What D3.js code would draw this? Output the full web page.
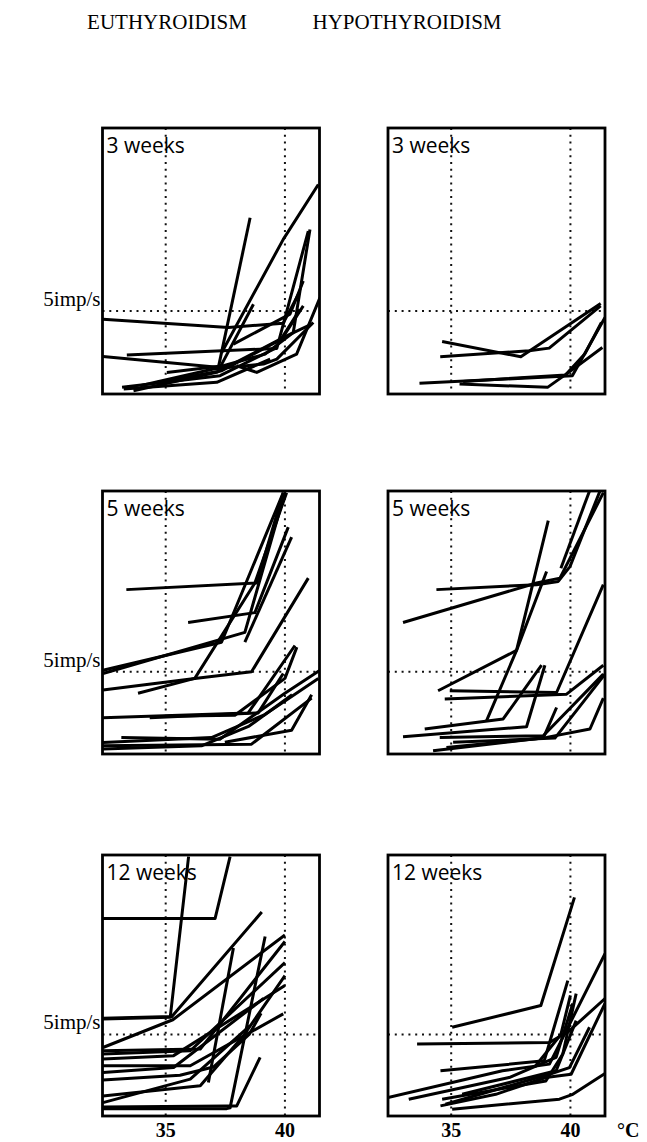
<!DOCTYPE html>
<html>
<head>
<meta charset="utf-8">
<script src="https://cdn.jsdelivr.net/npm/d3@7"></script>
<style>
  body { margin: 0; background: #fff; }
  svg { display: block; }
</style>
</head>
<body>
<script>
// Group titles, week labels and axis ticks
const groups = ["EUTHYROIDISM", "HYPOTHYROIDISM"];
const weeks = ["3 weeks", "5 weeks", "12 weeks"];
const tempTicks = [35, 40];
const rateRef = 5; // 5 imp/s reference line
const unitLabel = "°C";

// Each curve: [temperature °C, discharge rate imp/s]
const eu3 = [
  [[32.37, 4.5], [37.63, 4.0], [39.93, 4.26], [40.6, 6.1]],
  [[37.21, 1.6], [38.54, 10.6]],
  [[37.35, 2.5], [39.93, 9.3], [41.4, 12.6]],
  [[33.37, 2.34], [39.66, 2.74], [40.98, 9.8]],
  [[32.37, 2.26], [37.28, 1.6], [38.68, 5.4]],
  [[37.84, 3.0], [40.21, 4.8], [40.77, 6.8]],
  [[37.98, 1.7], [38.82, 1.3], [40.49, 2.4], [41.47, 5.8]],
  [[33.17, 0.4], [37.28, 1.1], [39.59, 2.74], [40.63, 5.1]],
  [[33.65, 0.2], [37.14, 1.3], [40.07, 3.5], [41.12, 4.2]],
  [[33.93, 0.5], [37.0, 1.5], [39.1, 1.8], [39.66, 2.1], [41.19, 4.3]],
  [[34.63, 0.7], [37.35, 1.4], [39.86, 3.3], [40.77, 5.3]],
  [[35.05, 1.3], [37.42, 1.7], [39.17, 2.4], [40.35, 3.7], [41.05, 9.9]],
  [[33.24, 0.3], [37.14, 0.7], [39.38, 2.1]]
];

const hypo3 = [
  [[34.62, 3.16], [37.92, 2.24], [41.27, 5.44]],
  [[34.54, 2.24], [38.27, 2.6], [39.11, 2.76], [41.27, 5.3]],
  [[33.67, 0.64], [40.08, 1.1], [41.45, 4.6]],
  [[35.35, 0.6], [39.04, 0.4], [40.22, 1.6], [41.34, 2.8]],
  [[35.5, 0.75], [39.8, 1.15], [40.6, 2.4], [41.3, 4.3]]
];

const eu5 = [
  [[32.37, 5.1], [37.34, 6.8], [39.93, 15.9]],
  [[32.37, 4.9], [38.32, 7.4], [40.0, 15.9]],
  [[33.84, 3.7], [36.22, 4.6], [38.74, 10.4], [40.07, 15.9]],
  [[33.35, 10.0], [38.81, 10.4], [39.93, 15.9]],
  [[35.94, 8.0], [38.74, 8.6], [40.14, 13.8]],
  [[32.37, 3.9], [36.22, 4.6], [38.6, 5.0], [40.98, 10.7]],
  [[38.32, 6.8], [40.28, 13.2]],
  [[32.37, 2.2], [38.46, 2.5], [40.42, 6.6]],
  [[34.33, 2.2], [38.88, 2.5], [39.93, 4.9]],
  [[33.14, 1.0], [37.27, 0.9], [40.0, 3.7], [41.47, 5.1]],
  [[32.37, 0.5], [38.6, 0.6], [41.12, 3.4]],
  [[32.37, 0.7], [36.92, 1.0], [39.16, 2.4], [41.4, 4.6]],
  [[37.48, 0.72], [40.28, 1.44], [41.12, 3.6]],
  [[34.96, 2.3], [37.9, 2.36], [40.0, 4.6], [40.5, 6.5]],
  [[32.37, 0.3], [36.5, 0.5], [38.5, 1.7], [40.3, 3.6]]
];

const hypo5 = [
  [[32.98, 8.0], [38.58, 10.4], [39.56, 10.7], [41.38, 15.9]],
  [[34.38, 10.0], [38.58, 10.3], [39.49, 10.5], [39.98, 11.4], [41.24, 16.0]],
  [[39.6, 11.3], [40.8, 16.0]],
  [[36.48, 2.02], [37.74, 6.3], [39.07, 14.2]],
  [[34.45, 3.85], [37.74, 6.3], [39.0, 11.1]],
  [[34.94, 3.85], [39.42, 3.74], [41.38, 10.3]],
  [[34.73, 3.34], [39.84, 3.64], [41.38, 5.4]],
  [[32.98, 1.05], [38.16, 1.66], [38.93, 5.4]],
  [[33.89, 1.52], [37.18, 2.13], [38.79, 5.4]],
  [[34.52, 1.01], [38.86, 1.11], [41.38, 4.86]],
  [[34.24, 0.2], [39.0, 1.01], [40.82, 1.52], [41.38, 3.4]],
  [[34.8, 0.4], [38.86, 0.97], [39.42, 2.83]],
  [[35.08, 0.71], [39.35, 0.97], [41.45, 4.86]]
];

const eu12 = [
  [[32.37, 12.1], [37.07, 12.1], [37.7, 15.9]],
  [[32.37, 5.95], [35.19, 6.05], [35.96, 15.9]],
  [[32.37, 6.0], [35.26, 6.1], [39.03, 12.5]],
  [[32.37, 4.2], [35.3, 5.9], [40.0, 11.1]],
  [[32.37, 4.0], [36.45, 4.1], [40.0, 10.7]],
  [[32.37, 3.8], [36.03, 4.0], [40.0, 9.4]],
  [[32.37, 3.5], [35.33, 3.7], [40.0, 8.0]],
  [[32.37, 3.08], [36.03, 3.08], [39.93, 6.26]],
  [[32.37, 2.67], [35.33, 2.97], [39.1, 7.2]],
  [[36.79, 2.05], [37.84, 10.3]],
  [[32.37, 0.45], [37.56, 0.45], [37.7, 0.5], [39.17, 11.0]],
  [[32.37, 0.82], [36.03, 2.26], [38.54, 5.54]],
  [[32.37, 0.55], [37.56, 0.62], [37.98, 0.62], [38.96, 3.6]],
  [[32.37, 1.23], [36.45, 1.85], [38.26, 4.92], [40.0, 8.6]],
  [[32.37, 2.2], [35.6, 2.5], [37.0, 3.0], [38.5, 5.0], [39.0, 6.3]]
];

const hypo12 = [
  [[35.04, 5.44], [38.76, 6.77], [40.17, 13.4]],
  [[33.57, 4.41], [39.12, 4.51], [39.96, 5.23], [41.45, 7.2]],
  [[34.55, 2.77], [38.9, 3.38], [39.89, 8.3]],
  [[32.35, 1.13], [37.15, 2.77], [39.12, 3.18], [41.45, 9.95]],
  [[33.22, 1.03], [37.43, 2.36], [39.4, 3.6], [40.1, 6.9]],
  [[34.62, 1.03], [38.97, 2.15], [39.68, 3.8], [40.24, 7.5]],
  [[34.55, 0.62], [36.87, 1.33], [38.97, 2.36], [40.03, 2.56], [41.45, 6.9]],
  [[35.04, 0.41], [39.54, 1.03], [40.1, 1.33], [41.45, 2.6]],
  [[34.76, 0.72], [39.12, 2.56], [39.96, 2.97], [40.8, 5.44]],
  [[35.46, 1.33], [39.4, 2.77], [40.24, 5.85]],
  [[38.5, 3.0], [39.6, 5.0], [40.0, 7.4]]
];

const panelData = [[eu3, hypo3], [eu5, hypo5], [eu12, hypo12]];

// Layout
const width = 647, height = 1142;
const colX = [102.5, 388];
const titleX = [167, 407];
const panelW = 217;
const rowY = [128, 491, 855];
const rowH = [266, 263, 261];
const tempDomain = [32.35, 41.45];
const rateDomain = [0, 16];

const serif = "'Liberation Serif', 'Times New Roman', serif";
const sans = "'Open Sans', 'DejaVu Sans', sans-serif";

const svg = d3.select("body")
  .append("svg")
  .attr("width", width)
  .attr("height", height);

// Column titles
svg.selectAll("text.title")
  .data(groups)
  .enter()
  .append("text")
  .attr("class", "title")
  .attr("x", (d, i) => titleX[i])
  .attr("y", 29)
  .attr("text-anchor", "middle")
  .style("font-family", serif)
  .style("font-size", "21px")
  .text(d => d);

const line = d3.line();

panelData.forEach((row, r) => {
  row.forEach((curves, c) => {
    const x = d3.scaleLinear().domain(tempDomain).range([colX[c], colX[c] + panelW]);
    const y = d3.scaleLinear().domain(rateDomain).range([rowY[r] + rowH[r], rowY[r]]);
    const clipId = `clip-${r}-${c}`;

    svg.append("clipPath")
      .attr("id", clipId)
      .append("rect")
      .attr("x", colX[c])
      .attr("y", rowY[r])
      .attr("width", panelW)
      .attr("height", rowH[r]);

    const g = svg.append("g");

    // dotted reference lines
    g.selectAll("line.vref")
      .data(tempTicks)
      .enter()
      .append("line")
      .attr("x1", d => x(d)).attr("x2", d => x(d))
      .attr("y1", rowY[r]).attr("y2", rowY[r] + rowH[r])
      .attr("stroke", "#111")
      .attr("stroke-width", 2)
      .attr("stroke-dasharray", "2 4.8");

    g.append("line")
      .attr("x1", colX[c]).attr("x2", colX[c] + panelW)
      .attr("y1", y(rateRef)).attr("y2", y(rateRef))
      .attr("stroke", "#111")
      .attr("stroke-width", 2)
      .attr("stroke-dasharray", "2 4.8");

    // curves
    g.append("g")
      .attr("clip-path", `url(#${clipId})`)
      .selectAll("path")
      .data(curves)
      .enter()
      .append("path")
      .attr("d", d => line(d.map(p => [x(p[0]), y(p[1])])))
      .attr("fill", "none")
      .attr("stroke", "#000")
      .attr("stroke-width", 3)
      .attr("stroke-linejoin", "round");

    // frame
    g.append("rect")
      .attr("x", colX[c])
      .attr("y", rowY[r])
      .attr("width", panelW)
      .attr("height", rowH[r])
      .attr("fill", "none")
      .attr("stroke", "#000")
      .attr("stroke-width", 2.8);

    // week label
    g.append("text")
      .attr("x", colX[c] + 4)
      .attr("y", rowY[r] + 25)
      .style("font-family", sans)
      .style("font-size", "21px")
      .text(weeks[r]);

    // 5 imp/s label on the left column
    if (c === 0) {
      g.append("text")
        .attr("x", colX[c] - 2)
        .attr("y", y(rateRef) - 5)
        .attr("text-anchor", "end")
        .style("font-family", serif)
        .style("font-size", "21px")
        .text(`${rateRef}imp/s`);
    }

    // temperature ticks under the bottom row
    if (r === panelData.length - 1) {
      g.selectAll("text.tick")
        .data(tempTicks)
        .enter()
        .append("text")
        .attr("x", d => x(d))
        .attr("y", 1137)
        .attr("text-anchor", "middle")
        .style("font-family", serif)
        .style("font-size", "20px")
        .style("font-weight", "bold")
        .text(d => d);
      if (c === 1) {
        g.append("text")
          .attr("x", colX[c] + panelW + 12)
          .attr("y", 1137)
          .style("font-family", serif)
          .style("font-size", "20px")
          .style("font-weight", "bold")
          .text(unitLabel);
      }
    }
  });
});
</script>
</body>
</html>
